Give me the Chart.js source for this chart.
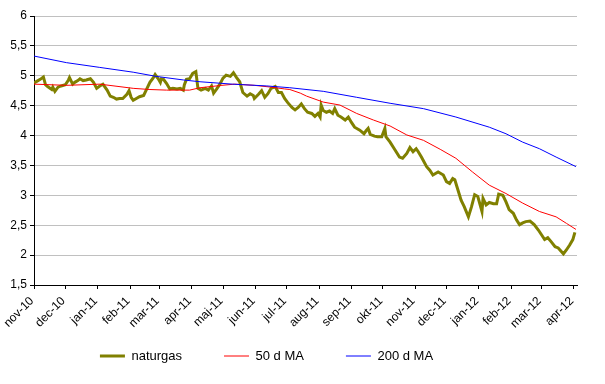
<!DOCTYPE html>
<html><head><meta charset="utf-8">
<script src="https://cdn.jsdelivr.net/npm/chart.js@4"></script>
<style>html,body{margin:0;padding:0;background:#fff}#wrap{width:605px;height:384px}</style>
</head><body><div id="wrap"><canvas id="c" width="605" height="384" style="width:605px;height:384px"></canvas></div>
<script>
// x values are days since 1 Nov 2010
const monthTickDays = [0,30,61,92,120,151,181,212,242,273,304,334,365,395,426,457,486,517];
const monthLabels = ['nov-10','dec-10','jan-11','feb-11','mar-11','apr-11','maj-11','jun-11','jul-11','aug-11','sep-11','okt-11','nov-11','dec-11','jan-12','feb-12','mar-12','apr-12'];
const yTicks = [1.5,2,2.5,3,3.5,4,4.5,5,5.5,6];

const gasDays = [0,3,6,9,11,13,17,18,20,23,26,30,33,34,37,39,42,44,47,50,54,57,60,63,66,70,73,76,79,82,85,89,91,93,95,98,101,105,108,111,114,116,119,121,122,124,127,130,133,137,140,143,144,146,149,152,155,157,160,164,167,170,172,175,178,181,184,188,191,194,197,200,204,207,210,211,215,218,221,224,227,231,234,237,240,243,247,250,253,256,259,262,266,269,272,274,275,277,280,283,286,288,291,294,298,301,304,307,312,316,318,320,322,326,329,333,336,337,341,345,350,353,357,360,363,366,368,371,376,379,382,387,392,395,398,401,403,406,409,412,416,419,422,425,429,430,433,436,440,443,445,449,452,455,459,462,465,468,471,475,479,483,486,489,492,495,499,502,505,507,510,513,516,518];
const gasValues = [4.88,4.91,4.94,4.98,4.85,4.82,4.77,4.81,4.74,4.81,4.83,4.85,4.93,4.97,4.86,4.89,4.92,4.95,4.92,4.93,4.95,4.89,4.79,4.83,4.86,4.76,4.66,4.64,4.61,4.62,4.62,4.69,4.75,4.64,4.59,4.62,4.65,4.67,4.78,4.89,4.96,5.02,4.95,4.89,4.95,4.94,4.87,4.78,4.79,4.78,4.79,4.76,4.85,4.94,4.95,5.04,5.07,4.79,4.76,4.79,4.76,4.83,4.71,4.78,4.86,4.96,5.01,4.99,5.05,4.97,4.90,4.72,4.66,4.70,4.67,4.62,4.69,4.75,4.64,4.70,4.79,4.82,4.72,4.72,4.62,4.55,4.47,4.43,4.47,4.53,4.45,4.39,4.37,4.32,4.37,4.31,4.51,4.42,4.39,4.41,4.37,4.45,4.34,4.31,4.26,4.31,4.22,4.14,4.09,4.03,4.08,4.12,4.02,3.99,3.98,3.98,4.12,3.98,3.89,3.78,3.64,3.62,3.70,3.80,3.73,3.78,3.73,3.64,3.48,3.42,3.34,3.39,3.34,3.23,3.20,3.28,3.26,3.09,2.92,2.81,2.64,2.81,3.01,2.98,2.73,2.95,2.84,2.88,2.86,2.86,3.02,3.00,2.89,2.76,2.70,2.59,2.51,2.54,2.56,2.57,2.51,2.42,2.34,2.26,2.29,2.23,2.14,2.12,2.06,2.02,2.09,2.17,2.26,2.38];

const ma50Days = [0,31,63,95,111,127,149,159,180,192,211,227,240,245,255,261,277,293,309,325,341,357,373,389,404,420,436,452,468,484,500,510,519];
const ma50Values = [4.86,4.84,4.86,4.79,4.77,4.76,4.76,4.80,4.84,4.86,4.84,4.81,4.78,4.77,4.71,4.66,4.56,4.51,4.37,4.26,4.16,4.01,3.92,3.77,3.62,3.39,3.17,3.03,2.87,2.73,2.64,2.53,2.43];

const ma200Days = [0,31,63,95,117,143,159,190,223,245,277,309,341,373,404,436,452,468,484,500,519];
const ma200Values = [5.33,5.22,5.14,5.06,4.99,4.93,4.90,4.86,4.83,4.80,4.74,4.64,4.54,4.45,4.31,4.14,4.03,3.89,3.78,3.64,3.48];

const toXY = (xs, ys) => xs.map((x, i) => ({x: x, y: ys[i]}));
const FONT = "'Liberation Sans', Arial, sans-serif";

// place the legend row like the original (slightly left of centre, text centred near y=356)
const legendPlace = {
  id: 'legendPlace',
  afterLayout(chart) {
    const lg = chart.legend;
    if (!lg) return;
    lg.top = 356 - 42 - 6.5;
    lg.bottom = chart.height;
    lg.height = lg.bottom - lg.top;
    lg.left -= 22; lg.right -= 22;
  }
};

new Chart(document.getElementById('c'), {
  type: 'line',
  data: {
    datasets: [
      {label: 'naturgas', data: toXY(gasDays, gasValues), borderColor: '#808000', borderWidth: 3,
       pointRadius: 0, pointBorderWidth: 3, pointBorderColor: '#808000', tension: 0, order: 3},
      {label: '50 d MA', data: toXY(ma50Days, ma50Values), borderColor: '#ff0000', borderWidth: 1,
       pointRadius: 0, pointBorderWidth: 1, pointBorderColor: '#ff0000', tension: 0, order: 2},
      {label: '200 d MA', data: toXY(ma200Days, ma200Values), borderColor: '#0000ff', borderWidth: 1,
       pointRadius: 0, pointBorderWidth: 1, pointBorderColor: '#0000ff', tension: 0, order: 1}
    ]
  },
  options: {
    responsive: false,
    animation: false,
    layout: {padding: {top: 16, right: 28, bottom: 21, left: 0}},
    plugins: {
      tooltip: {enabled: false},
      legend: {
        position: 'bottom',
        maxHeight: 30,
        labels: {
          usePointStyle: true, pointStyle: 'line', pointStyleWidth: 25, boxWidth: 25,
          padding: 42, color: '#000', font: {family: FONT, size: 13},
          sort: (a, b) => a.datasetIndex - b.datasetIndex
        }
      }
    },
    scales: {
      x: {
        type: 'linear', min: 0, max: 520,
        afterBuildTicks: (s) => { s.ticks = monthTickDays.map(v => ({value: v})); },
        afterFit: (s) => { s.height = 48; },
        ticks: {
          autoSkip: false, maxRotation: 45, minRotation: 45, padding: 5, labelOffset: -2,
          color: '#000', font: {family: FONT, size: 12},
          callback: (v, i) => monthLabels[i]
        },
        grid: {drawOnChartArea: false, tickColor: '#000', tickLength: 4},
        border: {color: '#000', width: 1}
      },
      y: {
        min: 1.5, max: 6,
        afterBuildTicks: (s) => { s.ticks = yTicks.map(v => ({value: v})); },
        afterFit: (s) => { s.width = 34; },
        ticks: {
          color: '#000', font: {family: FONT, size: 12}, padding: 3,
          callback: (v) => String(v).replace('.', ',')
        },
        grid: {color: '#c0c0c0', tickColor: '#000', tickLength: 4},
        border: {color: '#000', width: 1}
      }
    }
  },
  plugins: [legendPlace]
});
</script>
</body></html>
